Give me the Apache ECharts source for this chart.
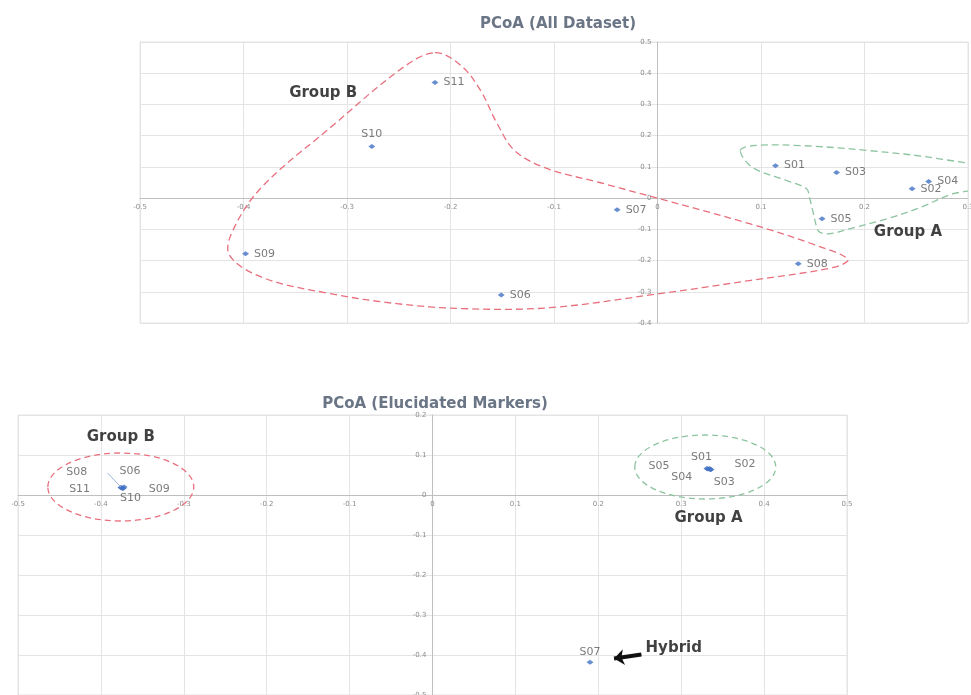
<!DOCTYPE html>
<html>
<head>
<meta charset="utf-8">
<script src="https://cdn.jsdelivr.net/npm/echarts@6/dist/echarts.min.js"></script>
<style>
html, body {margin: 0; padding: 0; background: #fff;}
#main {width: 971px; height: 695px;}
</style>
</head>
<body>
<div id="main"></div>
<script>
// sample names, shared by both plots
var samples = ['S01', 'S02', 'S03', 'S04', 'S05', 'S06', 'S07', 'S08', 'S09', 'S10', 'S11'];

// PCoA (All Dataset)
var allX = [0.114, 0.246, 0.173, 0.262, 0.159, -0.151, -0.039, 0.136, -0.398, -0.276, -0.215];
var allY = [0.104, 0.030, 0.082, 0.053, -0.066, -0.310, -0.037, -0.210, -0.178, 0.165, 0.370];

// PCoA (Elucidated Markers)
var markerX = [0.334, 0.336, 0.335, 0.332, 0.331, -0.372, 0.190, -0.376, -0.373, -0.374, -0.375];
var markerY = [0.066, 0.064, 0.063, 0.065, 0.066, 0.020, -0.418, 0.019, 0.017, 0.016, 0.018];

// axis ranges [min, max, interval]
var topXRange = [-0.5, 0.3, 0.1];
var topYRange = [-0.4, 0.5, 0.1];
var botXRange = [-0.5, 0.5, 0.1];
var botYRange = [-0.5, 0.2, 0.1];

// hand drawn group outlines (data units)
var groupBOutline = [
  [-0.215, 0.466], [-0.190, 0.425], [-0.171, 0.345], [-0.155, 0.239], [-0.138, 0.152],
  [-0.107, 0.095], [-0.056, 0.050], [0.089, -0.082], [0.154, -0.152],
  [0.184, -0.196], [0.170, -0.222], [0.089, -0.264], [0.002, -0.306], [-0.104, -0.351],
  [-0.188, -0.354], [-0.252, -0.338], [-0.316, -0.306], [-0.381, -0.255],
  [-0.414, -0.180], [-0.408, -0.088], [-0.381, 0.040], [-0.316, 0.226], [-0.246, 0.418]
];
var groupAOutline = [
  [0.080, 0.152], [0.092, 0.168], [0.140, 0.168], [0.205, 0.152], [0.270, 0.127],
  [0.330, 0.085], [0.330, 0.040], [0.286, 0.014], [0.254, -0.030], [0.222, -0.066],
  [0.189, -0.095], [0.167, -0.114], [0.157, -0.110], [0.154, -0.095], [0.150, -0.040],
  [0.147, 0.000], [0.144, 0.030], [0.125, 0.056], [0.092, 0.098]
];
var groupBEllipse = {center: [-0.376, 0.020], radius: [0.088, 0.085]};
var groupAEllipse = {center: [0.329, 0.070], radius: [0.085, 0.080]};

var RED = '#e8707e', GREEN = '#8cc4a0', BLUE = '#4472c4', TXT = '#595959';

// grid boxes in pixels
var topBox = {left: 140, right: 3, top: 42, bottom: 372};
var botBox = {left: 18, right: 124, top: 415, bottom: 0};

// label placement (pixels) for the crowded clusters in the second plot
var botLabelOffset = {
  S01: [-8, -11], S02: [34, -5], S03: [14, 12], S04: [-26, 8], S05: [-48, -2],
  S06: [6, -16], S08: [-44, -15], S09: [36, 1], S10: [8, 10], S11: [-42, 1], S07: [0, -10]
};

// shift an axis so it (and its labels) sits on the other axis' zero
function zeroShift(box, r, dim) {
  var span = dim === 'x' ? (695 - box.top - box.bottom) : (971 - box.left - box.right);
  return -span * (0 - r[0]) / (r[1] - r[0]);
}

function axis(grid, r, shift) {
  return {
    gridIndex: grid, type: 'value', min: r[0], max: r[1], interval: r[2],
    offset: shift,
    axisLine: {onZero: false, lineStyle: {color: '#bfbfbf'}},
    axisTick: {show: false},
    axisLabel: {fontSize: 7, color: '#8c8c8c', margin: 6, fontFamily: 'DejaVu Sans',
      showMinLabel: true, showMaxLabel: true},
    splitLine: {lineStyle: {color: '#e4e4e4'}}
  };
}

function outline(idx, pts, color) {
  return {
    type: 'custom', xAxisIndex: idx, yAxisIndex: idx, clip: true, silent: true, z: 1,
    data: [0],
    renderItem: function (params, api) {
      return {
        type: 'polygon',
        shape: {points: pts.map(function (p) { return api.coord(p); }), smooth: 0.35},
        style: {fill: 'none', stroke: color, lineWidth: 1.3, lineDash: [7, 4]}
      };
    }
  };
}

function ellipse(idx, e, color) {
  return {
    type: 'custom', xAxisIndex: idx, yAxisIndex: idx, silent: true, z: 1,
    data: [0],
    renderItem: function (params, api) {
      var c = api.coord(e.center);
      var s = api.size(e.radius);
      return {
        type: 'ellipse',
        shape: {cx: c[0], cy: c[1], rx: s[0], ry: s[1]},
        style: {fill: 'none', stroke: color, lineWidth: 1.3, lineDash: [6, 4]}
      };
    }
  };
}

function note(text, pos) {
  return {name: text, value: pos};
}

var topData = samples.map(function (n, i) {
  var d = {name: n, value: [allX[i], allY[i]]};
  if (n === 'S10') d.label = {position: 'top', distance: 4};
  return d;
});

var botData = samples.map(function (n, i) {
  return {
    name: n, value: [markerX[i], markerY[i]],
    label: {position: 'inside', offset: botLabelOffset[n]}
  };
});

var labelStyle = {fontSize: 11, color: TXT, fontFamily: 'DejaVu Sans'};
var noteLabel = {show: true, position: 'inside', formatter: '{b}', fontSize: 15, fontWeight: 'bold',
  color: '#111', fontFamily: 'DejaVu Sans'};
var titleStyle = {fontSize: 15, fontWeight: 'bold', color: '#6a7585', fontFamily: 'DejaVu Sans'};

var chart = echarts.init(document.getElementById('main'));
chart.setOption({
  backgroundColor: '#fff',
  animation: false,
  title: [
    {text: 'PCoA (All Dataset)', left: 553, top: 12, textAlign: 'center', textStyle: titleStyle},
    {text: 'PCoA (Elucidated Markers)', left: 430, top: 392, textAlign: 'center', textStyle: titleStyle}
  ],
  grid: [
    Object.assign({show: true, borderColor: '#e4e4e4', outerBoundsMode: 'none', containLabel: false}, topBox),
    Object.assign({show: true, borderColor: '#e4e4e4', outerBoundsMode: 'none', containLabel: false}, botBox)
  ],
  xAxis: [
    axis(0, topXRange, zeroShift(topBox, topYRange, 'x')),
    axis(1, botXRange, zeroShift(botBox, botYRange, 'x'))
  ],
  yAxis: [
    axis(0, topYRange, zeroShift(topBox, topXRange, 'y')),
    axis(1, botYRange, zeroShift(botBox, botXRange, 'y'))
  ],
  series: [
    outline(0, groupBOutline, RED),
    outline(0, groupAOutline, GREEN),
    ellipse(1, groupBEllipse, RED),
    ellipse(1, groupAEllipse, GREEN),
    {
      type: 'scatter', xAxisIndex: 0, yAxisIndex: 0, z: 3,
      symbol: 'diamond', symbolSize: [7, 5], itemStyle: {color: BLUE},
      label: Object.assign({show: true, position: 'right', distance: 5, formatter: '{b}'}, labelStyle),
      data: topData
    },
    {
      type: 'scatter', xAxisIndex: 1, yAxisIndex: 1, z: 3,
      symbol: 'diamond', symbolSize: [7, 5], itemStyle: {color: BLUE},
      label: Object.assign({show: true, formatter: '{b}'}, labelStyle),
      data: botData,
      markLine: {
        silent: true, symbol: 'none', label: {show: false},
        lineStyle: {color: '#9db3db', width: 1, type: 'solid'},
        data: [[{coord: [-0.392, 0.055]}, {coord: [-0.376, 0.020]}]]
      }
    },
    {
      type: 'scatter', xAxisIndex: 0, yAxisIndex: 0, symbolSize: 0, silent: true, z: 4,
      label: noteLabel,
      data: [note('Group B', [-0.323, 0.335]), note('Group A', [0.242, -0.110])]
    },
    {
      type: 'scatter', xAxisIndex: 1, yAxisIndex: 1, symbolSize: 0, silent: true, z: 4,
      label: noteLabel,
      data: [note('Group B', [-0.376, 0.145]), note('Group A', [0.333, -0.058]), note('Hybrid', [0.291, -0.383])],
      markLine: {
        silent: true, symbol: ['none', 'arrow'], symbolSize: [12, 10], label: {show: false},
        lineStyle: {color: '#111', width: 4, type: 'solid'},
        data: [[{coord: [0.252, -0.399]}, {coord: [0.219, -0.409]}]]
      }
    }
  ]
});
</script>
</body>
</html>
